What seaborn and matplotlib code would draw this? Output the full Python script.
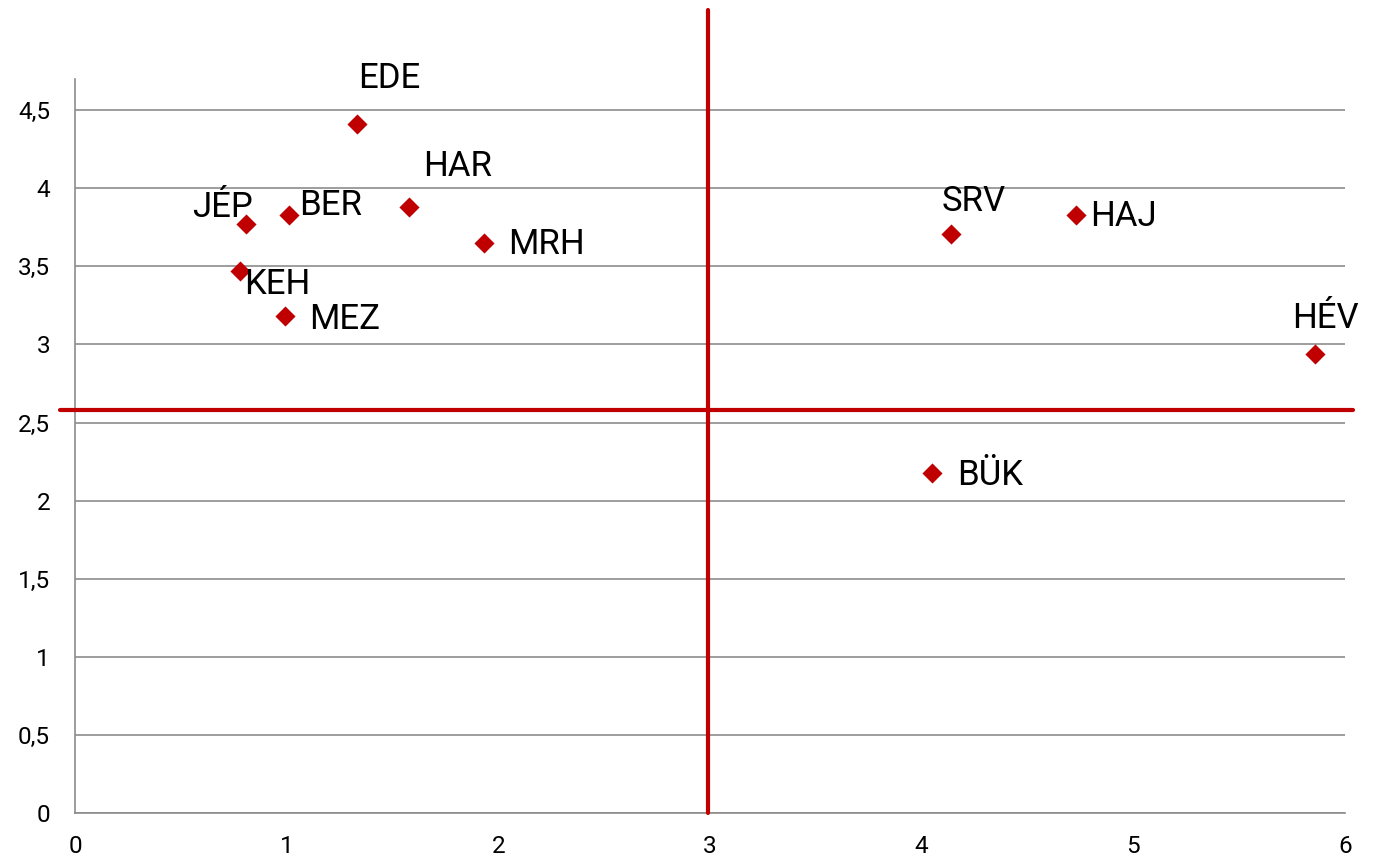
import matplotlib
matplotlib.use("Agg")
import matplotlib.pyplot as plt
from matplotlib.ticker import FuncFormatter
import seaborn as sns
import pandas as pd

# data
labels = ["EDE", "HAR", "BER", "JÉP", "MRH", "KEH", "MEZ", "SRV", "HAJ", "HÉV", "BÜK"]
x_vals = [1.33, 1.58, 1.01, 0.81, 1.93, 0.78, 0.99, 4.14, 4.73, 5.86, 4.05]
y_vals = [4.41, 3.88, 3.83, 3.77, 3.65, 3.47, 3.18, 3.71, 3.83, 2.94, 2.18]

# label offsets in pixels (dx, dy) relative to each marker
label_dx = [2, 14, 10, -54, 25, 4, 25, -10, 14, -23, 25]
label_dy = [46, 41, 9, 17, -2, -13, -3, 32, -2, 35, -3]

# quadrant dividers
vline_x = 2.99
hline_y = 2.58
vline_span = (0, 5.14)
hline_span = (-0.07, 6.04)

x_ticks = [0, 1, 2, 3, 4, 5, 6]
y_ticks = [0, 0.5, 1, 1.5, 2, 2.5, 3, 3.5, 4, 4.5]

red = "#C00000"
grey = "#8C8C8C"

sns.set_style("white")
plt.rcParams['font.family'] = ['Roboto', 'DejaVu Sans']

df = pd.DataFrame({"x": x_vals, "y": y_vals, "label": labels})

fig = plt.figure(figsize=(13.96, 8.6), dpi=100)
ax = fig.add_axes([75 / 1396, 1 - 813 / 860, 1270 / 1396, 734 / 860])

sns.scatterplot(data=df, x="x", y="y", marker="D", s=105, color=red,
                edgecolor=red, linewidth=0, ax=ax, zorder=5, clip_on=False)

for i, row in df.iterrows():
    ax.annotate(row["label"], (row["x"], row["y"]),
                xytext=(label_dx[i], label_dy[i]), textcoords="offset pixels",
                ha="left", va="center", fontsize=25, color="black", zorder=6)

ax.plot([vline_x, vline_x], vline_span, color=red, lw=3, clip_on=False, zorder=4)
ax.plot(hline_span, [hline_y, hline_y], color=red, lw=3, clip_on=False, zorder=4)

ax.set_xlim(0, 6)
ax.set_ylim(0, 4.7)
ax.set_xticks(x_ticks)
ax.set_yticks(y_ticks)
ax.yaxis.set_major_formatter(FuncFormatter(lambda v, p: f"{v:g}".replace(".", ",")))
ax.xaxis.set_major_formatter(FuncFormatter(lambda v, p: f"{v:g}"))

ax.grid(axis="y", color=grey, lw=1.2)
ax.set_axisbelow(True)
for side in ["top", "right"]:
    ax.spines[side].set_visible(False)
for side in ["left", "bottom"]:
    ax.spines[side].set_color(grey)
    ax.spines[side].set_linewidth(1.2)

ax.tick_params(axis="both", direction="out", length=6, width=1.2, color=grey,
               labelsize=17.5, labelcolor="black")
ax.tick_params(axis="y", pad=12)
ax.tick_params(axis="x", pad=10)
ax.set_xlabel("")
ax.set_ylabel("")

fig.savefig("out.png", dpi=100)
